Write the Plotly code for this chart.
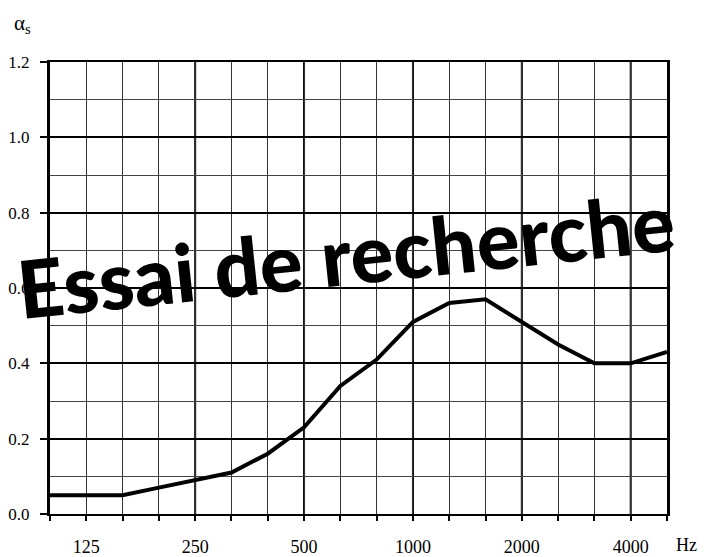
import plotly.graph_objects as go

freqs = [100, 125, 160, 200, 250, 315, 400, 500, 630, 800, 1000, 1250, 1600, 2000, 2500, 3150, 4000, 5000]
alpha_s = [0.05, 0.05, 0.05, 0.07, 0.09, 0.11, 0.16, 0.23, 0.34, 0.41, 0.51, 0.56, 0.57, 0.51, 0.45, 0.40, 0.40, 0.43]
label_freqs = [125, 250, 500, 1000, 2000, 4000]
octave_freqs = [250, 500, 1000, 2000, 4000]
y_ticks = [0.0, 0.2, 0.4, 0.6, 0.8, 1.0, 1.2]
y_ticktext = ["0.0", "0.2", "0.4", "0.6", "0.8", "1.0", "1.2"]
watermark = "Essai de recherche"

xi = list(range(len(freqs)))
serif = "Liberation Serif"

fig = go.Figure()
fig.add_trace(go.Scatter(x=xi, y=alpha_s, mode="lines",
                         line=dict(color="black", width=4), showlegend=False))

for f in octave_freqs:
    fig.add_shape(type="line", xref="x", yref="y", x0=freqs.index(f), x1=freqs.index(f),
                  y0=0, y1=1.2, line=dict(color="black", width=2), layer="below")

fig.update_layout(
    width=705, height=549,
    margin=dict(l=42, r=46, t=54, b=43, autoexpand=False),
    paper_bgcolor="white", plot_bgcolor="white",
    xaxis=dict(range=[0, len(freqs) - 1], tickmode="array", automargin=False,
               tickvals=[freqs.index(f) for f in label_freqs],
               ticktext=[str(f) for f in label_freqs],
               showgrid=False, zeroline=False,
               showline=True, linecolor="black", linewidth=2, mirror=True,
               ticks="outside", ticklen=5, tickwidth=2, tickcolor="black",
               ticklabelstandoff=10,
               tickfont=dict(family=serif, size=18, color="black"),
               minor=dict(dtick=1, tick0=0, showgrid=True, gridcolor="#333333", gridwidth=1,
                          ticks="outside", ticklen=5, tickwidth=2, tickcolor="black")),
    yaxis=dict(range=[0, 1.2], tickmode="array", tickvals=y_ticks, ticktext=y_ticktext,
               automargin=False,
               showgrid=True, gridcolor="black", gridwidth=2, zeroline=False,
               showline=True, linecolor="black", linewidth=3, mirror=True,
               ticks="outside", ticklen=7, tickwidth=2, tickcolor="black",
               ticklabelstandoff=7,
               tickfont=dict(family=serif, size=17, color="black"),
               minor=dict(dtick=0.1, tick0=0, showgrid=True, gridcolor="#444444", gridwidth=1)),
    annotations=[
        dict(text="α<sub>s</sub>", xref="paper", yref="paper", x=-0.044, y=1.1173,
             xanchor="center", yanchor="top",
             showarrow=False, font=dict(family=serif, size=21, color="black")),
        dict(text="Hz", xref="paper", yref="paper", x=1.031, y=-0.068,
             xanchor="center", yanchor="middle",
             showarrow=False, font=dict(family=serif, size=18, color="black")),
        dict(text=watermark, xref="paper", yref="paper", x=0.48, y=0.575,
             xanchor="center", yanchor="middle",
             showarrow=False, textangle=-6,
             font=dict(family="Lato", size=80, color="black", weight=900)),
    ],
)

fig.write_html("out.html")
